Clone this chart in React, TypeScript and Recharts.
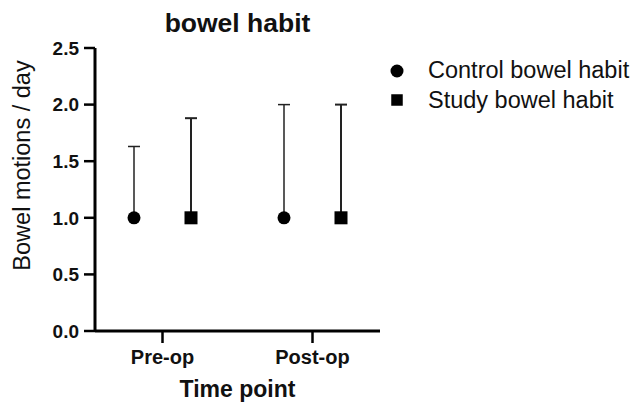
import React from 'react';
import { ScatterChart, Scatter, XAxis, YAxis, ErrorBar, Legend } from 'recharts';

const categories = ['Pre-op', 'Post-op'];
const controlMean = [1.0, 1.0];
const controlUpperError = [0.63, 1.0];
const studyMean = [1.0, 1.0];
const studyUpperError = [0.88, 1.0];
const yTicks = [0, 0.5, 1.0, 1.5, 2.0, 2.5];

const FONT = '"Liberation Sans", Arial, sans-serif';
const GROUP_OFFSET = 0.19;

const controlData = categories.map((c, i) => ({
  x: i - GROUP_OFFSET,
  y: controlMean[i],
  err: [0, controlUpperError[i]],
  category: c,
}));
const studyData = categories.map((c, i) => ({
  x: i + GROUP_OFFSET,
  y: studyMean[i],
  err: [0, studyUpperError[i]],
  category: c,
}));

const CircleShape = (p: any) => <circle cx={p.cx} cy={p.cy} r={6.5} fill="#000" />;
const SquareShape = (p: any) => (
  <rect x={p.cx - 6.5} y={p.cy - 6.5} width={13} height={13} fill="#000" />
);

const LegendContent = (props: any) => {
  const payload = props.payload || [];
  return (
    <div style={{ fontFamily: FONT }}>
      {payload.map((entry: any, idx: number) => (
        <div
          key={idx}
          style={{ display: 'flex', alignItems: 'center', height: 29.5 }}
        >
          <svg width={18} height={18} style={{ flex: 'none' }}>
            {entry.value === 'Control bowel habit' ? (
              <circle cx={9} cy={9} r={6.5} fill="#000" />
            ) : (
              <rect x={3.25} y={3.25} width={11.5} height={11.5} fill="#000" />
            )}
          </svg>
          <span style={{ marginLeft: 22, fontSize: 23.5, color: '#111', whiteSpace: 'nowrap' }}>
            {entry.value}
          </span>
        </div>
      ))}
    </div>
  );
};

const YLabel = (props: any) => {
  const vb = props.viewBox || {};
  const cx = vb.x + 22;
  const cy = vb.y + vb.height / 2 - 24;
  return (
    <text
      x={cx}
      y={cy}
      transform={`rotate(-90, ${cx}, ${cy})`}
      textAnchor="middle"
      dominantBaseline="central"
      style={{ fontFamily: FONT, fontSize: 23.5, fill: '#111' }}
    >
      Bowel motions / day
    </text>
  );
};

export default function App() {
  return (
    <div style={{ position: 'absolute', left: 0, top: 0, width: 633, height: 406, background: '#fff' }}>
      <div
        style={{
          position: 'absolute',
          left: 95,
          width: 285,
          top: 10,
          textAlign: 'center',
          fontFamily: FONT,
          fontWeight: 'bold',
          fontSize: 26.5,
          lineHeight: '26px',
          color: '#111',
        }}
      >
        bowel habit
      </div>
      <ScatterChart
        width={633}
        height={406}
        margin={{ top: 48, right: 253, bottom: 0, left: 0 }}
      >
        <XAxis
          type="number"
          dataKey="x"
          domain={[-0.45, 1.45]}
          ticks={[0, 1]}
          tickFormatter={(v: number) => categories[Math.round(v)]}
          height={75}
          axisLine={{ stroke: '#000', strokeWidth: 3 }}
          tickLine={{ stroke: '#000', strokeWidth: 2.5 }}
          tickSize={12}
          tickMargin={7}
          tick={{ fill: '#111', fontSize: 20, fontWeight: 'bold', fontFamily: FONT }}
          allowDataOverflow
          label={{
            value: 'Time point',
            position: 'insideBottom',
            offset: 9,
            style: { fontFamily: FONT, fontSize: 23, fontWeight: 'bold', fill: '#111' },
          }}
        />
        <YAxis
          type="number"
          dataKey="y"
          domain={[0, 2.5]}
          ticks={yTicks}
          tickFormatter={(v: number) => v.toFixed(1)}
          width={95}
          axisLine={{ stroke: '#000', strokeWidth: 3 }}
          tickLine={{ stroke: '#000', strokeWidth: 2.5 }}
          tickSize={11}
          tickMargin={5}
          tick={{ fill: '#111', fontSize: 19, fontWeight: 'bold', fontFamily: FONT }}
          allowDataOverflow
          label={{ content: YLabel }}
        />
        <Legend
          layout="vertical"
          align="center"
          verticalAlign="middle"
          wrapperStyle={{ left: 388, top: 56, width: 245 }}
          content={LegendContent}
        />
        <Scatter
          name="Control bowel habit"
          data={controlData}
          shape={CircleShape}
          fill="#000"
          isAnimationActive={false}
        >
          <ErrorBar dataKey="err" direction="y" width={6} stroke="#222" strokeWidth={1.5} />
        </Scatter>
        <Scatter
          name="Study bowel habit"
          data={studyData}
          shape={SquareShape}
          fill="#000"
          isAnimationActive={false}
        >
          <ErrorBar dataKey="err" direction="y" width={6} stroke="#222" strokeWidth={2} />
        </Scatter>
      </ScatterChart>
    </div>
  );
}
